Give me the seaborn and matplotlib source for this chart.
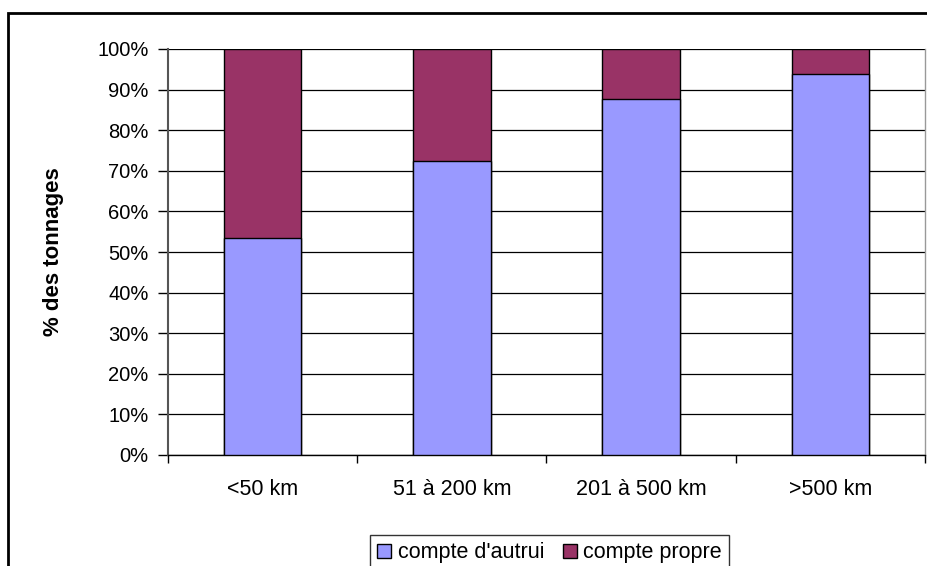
import matplotlib
matplotlib.use("Agg")
import matplotlib.pyplot as plt
import matplotlib.patches as mpatches
import pandas as pd
import seaborn as sns
from matplotlib.ticker import FixedLocator, PercentFormatter

categories = ["<50 km", "51 à 200 km", "201 à 500 km", ">500 km"]
autrui = [53.4, 72.5, 87.7, 93.8]
propre = [100 - v for v in autrui]

BLUE = "#9999FF"
MAROON = "#993366"

sns.set_theme(style="white")
plt.rcParams["font.family"] = ["Liberation Sans", "DejaVu Sans"]
plt.rcParams["text.color"] = "black"
plt.rcParams["xtick.color"] = "black"
plt.rcParams["ytick.color"] = "black"
plt.rcParams["axes.labelcolor"] = "black"

df = pd.DataFrame({"distance": categories, "autrui": autrui, "propre": propre})
df["total"] = df["autrui"] + df["propre"]

fig = plt.figure(figsize=(9.28, 5.66), dpi=100)
ax = fig.add_axes([168 / 928, 111 / 566, 757 / 928, 406 / 566])

sns.barplot(data=df, x="distance", y="total", color=MAROON, width=0.41,
            edgecolor="black", linewidth=1, saturation=1, ax=ax, zorder=3)
sns.barplot(data=df, x="distance", y="autrui", color=BLUE, width=0.41,
            edgecolor="black", linewidth=1, saturation=1, ax=ax, zorder=3)

ax.set_xlim(-0.5, 3.5)
ax.set_ylim(0, 100)
ax.yaxis.set_major_locator(FixedLocator(range(0, 101, 10)))
ax.yaxis.set_major_formatter(PercentFormatter(decimals=0))
ax.grid(axis="y", color="black", linewidth=0.9, zorder=0)
ax.set_axisbelow(True)

ax.set_xlabel("")
ax.set_ylabel("% des tonnages", fontsize=16, fontweight="bold", labelpad=24)
ax.tick_params(axis="y", labelsize=14.5, direction="out", length=7, width=1,
               left=True, pad=7)
ax.tick_params(axis="x", labelsize=15.5, length=0, pad=17)
ax.xaxis.set_minor_locator(FixedLocator([-0.5, 0.5, 1.5, 2.5, 3.5]))
ax.tick_params(axis="x", which="minor", direction="out", length=6, width=1,
               bottom=True)

ax.spines["left"].set_color("#555555")
ax.spines["left"].set_linewidth(1.5)
ax.spines["bottom"].set_color("black")
ax.spines["bottom"].set_linewidth(1)
ax.spines["top"].set_visible(False)
ax.spines["right"].set_color("#999999")
ax.spines["right"].set_linewidth(1)

handles = [mpatches.Patch(facecolor=BLUE, edgecolor="black", label="compte d'autrui"),
           mpatches.Patch(facecolor=MAROON, edgecolor="black", label="compte propre")]
leg = fig.legend(handles=handles, loc="upper center", bbox_to_anchor=(549.5 / 928, 1 - 524 / 566),
                 ncol=2, fontsize=15.5, frameon=True, fancybox=False, handlelength=0.65,
                 handleheight=0.65, handletextpad=0.3, columnspacing=0.85, borderpad=0.35)
leg.get_frame().set_edgecolor("black")
leg.get_frame().set_linewidth(1)

fig.patches.append(mpatches.Rectangle((8 / 928, -0.1), 1.2, (566 - 13) / 566 + 0.1,
                                      transform=fig.transFigure, fill=False,
                                      edgecolor="black", linewidth=2))

fig.savefig("out.png", dpi=100)
